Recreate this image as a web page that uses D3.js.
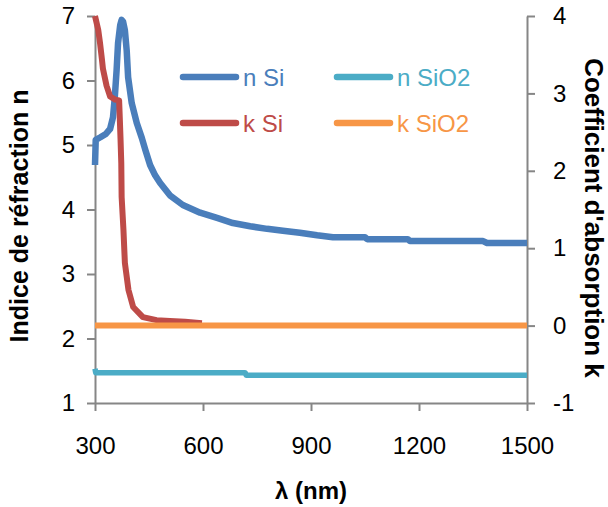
<!DOCTYPE html>
<html><head><meta charset="utf-8">
<script src="https://cdn.jsdelivr.net/npm/d3@7"></script>
<style>html,body{margin:0;padding:0;background:#fff;}svg{display:block;font-family:"Liberation Sans",Arial,sans-serif;}</style>
</head><body>
<svg id="c" width="608" height="507"></svg>
<script>
// wavelengths (nm) and values
const nSiLambda = [300,302,315,330,342,350,355,360,364,370,374,378,383,388,392,402,416,430,440,453,467,481,508,544,592,639,683,731,778,822,869,917,961,1050,1056,1169,1175,1378,1389,1500];
const nSiValues = [4.69,5.08,5.12,5.17,5.25,5.43,5.74,6.16,6.58,6.86,6.94,6.91,6.78,6.47,6.05,5.65,5.34,5.11,4.92,4.69,4.53,4.41,4.22,4.07,3.95,3.87,3.79,3.74,3.70,3.67,3.64,3.60,3.57,3.57,3.54,3.54,3.51,3.51,3.48,3.48];
const kSiLambda = [300,309,314,319,322,332,342,356,367,369,371,373,374,379,383,393,406,433,471,508,550,597];
const kSiValues = [4.0,3.82,3.65,3.45,3.32,3.10,2.96,2.92,2.91,2.66,2.40,2.10,1.66,1.24,0.81,0.46,0.24,0.11,0.07,0.06,0.05,0.03];
const nSiO2Lambda = [300,302,717,720,1500];
const nSiO2Values = [1.53,1.47,1.47,1.43,1.43];
const kSiO2Lambda = [300,1500];
const kSiO2Values = [0,0];
const xTicks = [300,600,900,1200,1500];
const nTicks = [1,2,3,4,5,6,7];
const kTicks = [-1,0,1,2,3,4];
const seriesNames = ["n Si","k Si","n SiO2","k SiO2"];
const seriesColors = ["#4a7ebb","#be4b48","#4bacc6","#f79646"];

const svg = d3.select("#c");
const L = 95, R = 527, T = 16, B = 403;
const x = d3.scaleLinear().domain([300,1500]).range([L,R]);
const yN = d3.scaleLinear().domain([1,7]).range([B,T]);
const yK = d3.scaleLinear().domain([-1,4]).range([B,T]);
const axisColor = "#868686";

function styleAxis(g){
  g.select(".domain").attr("stroke",axisColor).attr("stroke-width",2);
  g.selectAll(".tick line").attr("stroke",axisColor).attr("stroke-width",2);
  g.selectAll(".tick text").attr("fill","#000").style("font-size","24px").style("font-family","Liberation Sans, Arial, sans-serif");
}
const gx = svg.append("g").attr("transform",`translate(0,${B})`)
  .call(d3.axisBottom(x).tickValues(xTicks).tickSize(8).tickSizeOuter(0).tickPadding(26).tickFormat(d3.format("d")));
styleAxis(gx);
const gl = svg.append("g").attr("transform",`translate(${L},0)`)
  .call(d3.axisLeft(yN).tickValues(nTicks).tickSize(8).tickSizeOuter(0).tickPadding(12).tickFormat(d3.format("d")));
styleAxis(gl);
const gr = svg.append("g").attr("transform",`translate(${R},0)`)
  .call(d3.axisRight(yK).tickValues(kTicks).tickSize(8).tickSizeOuter(0).tickPadding(18).tickFormat(d3.format("d")));
styleAxis(gr);
gr.selectAll(".tick text").text(d => d < 0 ? "-" + Math.abs(d) : d);

function draw(lams, vals, yScale, color, w){
  const data = lams.map((l,i)=>[l, vals[i]]);
  svg.append("path").datum(data)
    .attr("fill","none").attr("stroke",color).attr("stroke-width",w)
    .attr("stroke-linejoin","round").attr("stroke-linecap","butt")
    .attr("d", d3.line().x(d=>x(d[0])).y(d=>yScale(d[1])));
}
draw(nSiLambda, nSiValues, yN, seriesColors[0], 6.5);
draw(nSiO2Lambda, nSiO2Values, yN, seriesColors[2], 5.5);
draw(kSiLambda, kSiValues, yK, seriesColors[1], 6);
draw(kSiO2Lambda, kSiO2Values, yK, seriesColors[3], 6);

// legend
const legPos = [[183,77],[183,123],[337,77],[337,123]];
seriesNames.forEach((name,i)=>{
  const [lx,ly] = legPos[i];
  svg.append("line").attr("x1",lx).attr("x2",lx+53).attr("y1",ly).attr("y2",ly)
    .attr("stroke",seriesColors[i]).attr("stroke-width",6.5).attr("stroke-linecap","round");
  svg.append("text").attr("x",lx+60).attr("y",ly+8.5).attr("fill",seriesColors[i])
    .style("font-size","24px").text(name);
});

// titles
svg.append("text").attr("x",(L+R)/2).attr("y",499).attr("text-anchor","middle")
  .style("font-size","24px").style("font-weight","bold").text("λ (nm)");
svg.append("text").attr("transform","translate(28,216) rotate(-90)").attr("text-anchor","middle")
  .style("font-size","25px").style("font-weight","bold").text("Indice de réfraction  n");
svg.append("text").attr("transform","translate(585,218) rotate(90)").attr("text-anchor","middle")
  .style("font-size","26px").style("font-weight","bold").text("Coefficient d'absorption  k");
</script>
</body></html>
